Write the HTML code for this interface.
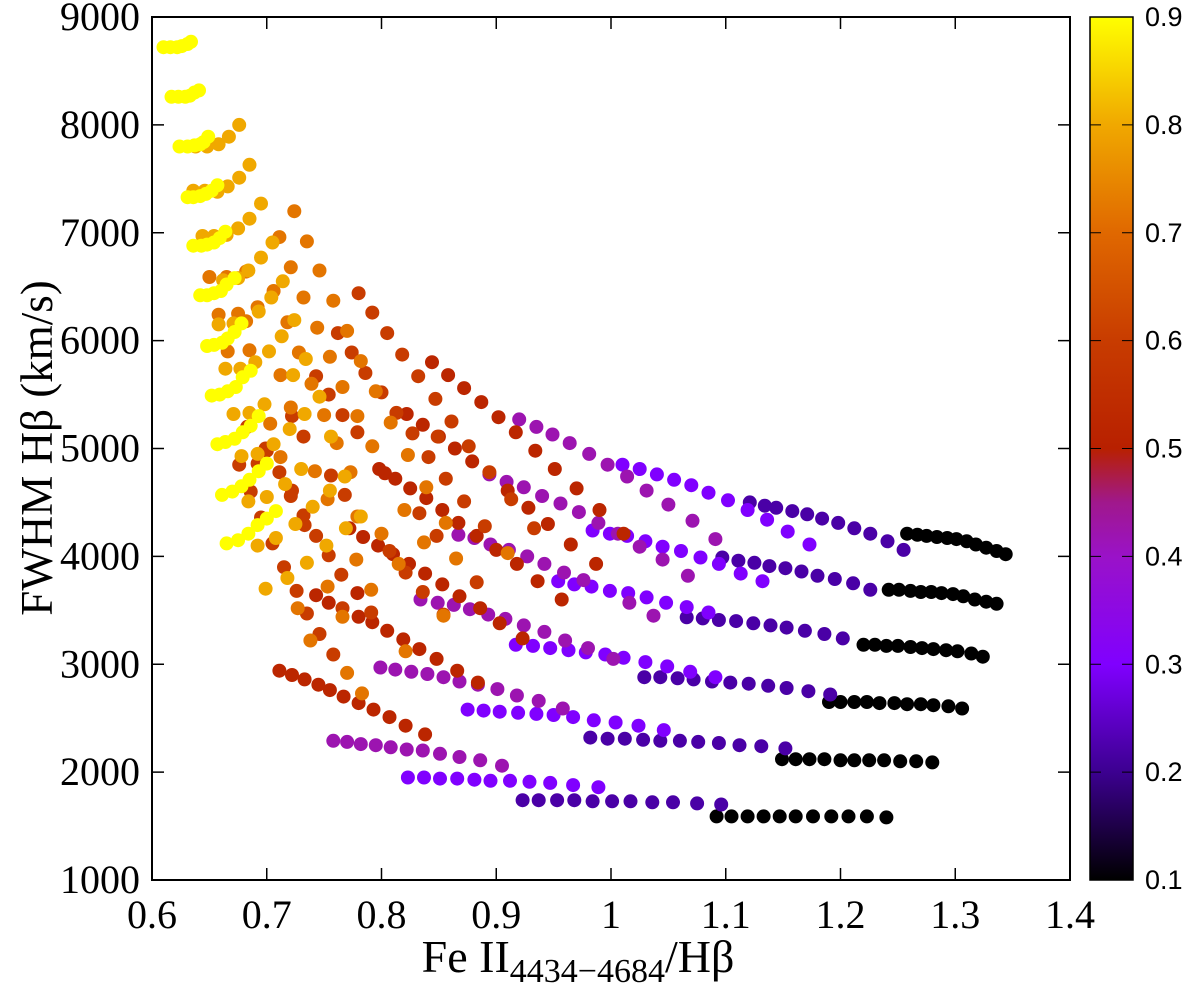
<!DOCTYPE html>
<html><head><meta charset="utf-8">
<style>
html,body{margin:0;padding:0;background:#fff;}
svg{display:block;}
</style></head>
<body>
<svg id="chart" width="1200" height="985" viewBox="0 0 1200 985" xmlns="http://www.w3.org/2000/svg">
  <defs>
    <linearGradient id="cbgrad" x1="0" y1="1" x2="0" y2="0">
      <stop offset="0" stop-color="#000000"/>
      <stop offset="0.125" stop-color="#3c0090"/>
      <stop offset="0.25" stop-color="#8000ff"/>
      <stop offset="0.375" stop-color="#9a12c8"/>
      <stop offset="0.4375" stop-color="#a0188c"/>
      <stop offset="0.5" stop-color="#b82000"/>
      <stop offset="0.625" stop-color="#c83c00"/>
      <stop offset="0.75" stop-color="#e06800"/>
      <stop offset="0.875" stop-color="#f0a800"/>
      <stop offset="1" stop-color="#ffff00"/>
    </linearGradient>
  </defs>
  <g id="points"></g>
  <rect x="152" y="17" width="918" height="863" fill="none" stroke="#000" stroke-width="2"/>
  <g id="axes" font-family="'Liberation Serif', serif" font-size="40" fill="#000"></g>
  <text transform="translate(52,448) rotate(-90)" text-anchor="middle" font-family="'Liberation Serif', serif" font-size="45">FWHM Hβ (km/s)</text>
  <text x="578" y="972" text-anchor="middle" font-family="'Liberation Serif', serif" font-size="46">Fe II<tspan font-size="34" dy="10">4434−4684</tspan><tspan dy="-10">/Hβ</tspan></text>
  <rect x="1090" y="17" width="43" height="863" fill="url(#cbgrad)" stroke="#000" stroke-width="1.5"/>
  <g id="cbaxis" font-family="'Liberation Sans', sans-serif" font-size="27" fill="#000"></g>
</svg>
<script>
// ---- data (x = FeII ratio, y = FWHM Hbeta km/s), grouped by colour value ----
const xTicks = [0.6,0.7,0.8,0.9,1,1.1,1.2,1.3,1.4];
const yTicks = [1000,2000,3000,4000,5000,6000,7000,8000,9000];
const cbTicks = [0.1,0.2,0.3,0.4,0.5,0.6,0.7,0.8,0.9];
const groupValues = [0.1,0.22,0.3,0.42,0.52,0.6,0.72,0.8,0.9];

const c10 = [
[1.258,4210],[1.267,4200],[1.275,4190],[1.284,4180],[1.293,4170],[1.301,4160],[1.310,4140],[1.318,4110],[1.327,4080],[1.336,4050],[1.344,4020],
[1.242,3690],[1.251,3690],[1.261,3680],[1.270,3670],[1.279,3670],[1.288,3660],[1.298,3650],[1.307,3630],[1.317,3600],[1.327,3580],[1.336,3560],
[1.220,3180],[1.230,3180],[1.240,3170],[1.250,3170],[1.261,3160],[1.271,3150],[1.281,3140],[1.292,3130],[1.302,3120],[1.314,3100],[1.324,3070],
[1.190,2650],[1.200,2650],[1.212,2650],[1.223,2650],[1.234,2640],[1.247,2640],[1.258,2630],[1.270,2630],[1.281,2620],[1.294,2610],[1.306,2590],
[1.149,2120],[1.161,2120],[1.173,2120],[1.186,2120],[1.200,2110],[1.212,2110],[1.225,2110],[1.238,2110],[1.252,2100],[1.266,2100],[1.280,2090],
[1.092,1590],[1.105,1590],[1.119,1590],[1.133,1590],[1.147,1590],[1.161,1590],[1.176,1590],[1.192,1590],[1.207,1590],[1.223,1590],[1.240,1580]];

const c22 = [
[1.121,4500],[1.134,4470],[1.144,4450],[1.158,4420],[1.171,4390],[1.184,4350],[1.198,4310],[1.212,4260],[1.226,4210],[1.241,4140],[1.255,4060],
[1.097,3990],[1.111,3960],[1.125,3940],[1.138,3910],[1.152,3890],[1.166,3860],[1.180,3820],[1.195,3790],[1.211,3750],[1.226,3690],
[1.066,3435],[1.080,3425],[1.094,3410],[1.109,3400],[1.124,3380],[1.139,3360],[1.153,3340],[1.169,3310],[1.186,3280],[1.202,3240],
[1.029,2880],[1.043,2880],[1.058,2870],[1.072,2860],[1.088,2840],[1.104,2830],[1.120,2820],[1.137,2800],[1.153,2780],[1.172,2750],[1.191,2720],
[0.982,2320],[0.997,2310],[1.012,2310],[1.028,2300],[1.043,2290],[1.060,2290],[1.076,2280],[1.094,2270],[1.112,2250],[1.131,2240],[1.152,2220],
[0.923,1740],[0.937,1740],[0.953,1740],[0.968,1740],[0.984,1730],[1.001,1730],[1.017,1730],[1.036,1720],[1.054,1720],[1.075,1710],[1.096,1700]];

const c30 = [
[1.010,4850],[1.025,4810],[1.040,4760],[1.055,4710],[1.070,4660],[1.085,4590],[1.102,4520],[1.119,4430],[1.136,4340],[1.154,4230],[1.173,4110],
[0.984,4240],[0.999,4210],[1.014,4190],[1.030,4140],[1.045,4090],[1.061,4050],[1.078,3990],[1.094,3930],[1.113,3840],[1.132,3770],
[0.954,3770],[0.968,3740],[0.983,3720],[0.999,3680],[1.015,3660],[1.031,3620],[1.048,3570],[1.066,3530],[1.085,3480],
[0.917,3180],[0.932,3170],[0.947,3150],[0.963,3130],[0.978,3110],[0.995,3090],[1.011,3060],[1.030,3020],[1.049,2980],[1.069,2930],[1.091,2880],
[0.875,2580],[0.889,2570],[0.903,2560],[0.919,2550],[0.935,2540],[0.950,2530],[0.967,2510],[0.985,2480],[1.004,2460],[1.024,2430],[1.046,2390],
[0.823,1950],[0.837,1950],[0.851,1940],[0.866,1940],[0.881,1930],[0.895,1920],[0.912,1920],[0.929,1910],[0.947,1900],[0.967,1880],[0.989,1860]];

const c42 = [
[0.920,5270],[0.935,5200],[0.949,5130],[0.964,5050],[0.981,4950],[0.997,4850],
[0.894,4760],[0.909,4690],[0.924,4640],[0.940,4560],[0.956,4490],[0.972,4410],[0.989,4310],[1.006,4210],[1.025,4090],[1.045,3970],[1.067,3820],
[1.014,4740],[1.031,4610],[1.050,4480],[1.071,4330],[1.091,4160],[1.016,3570],[1.037,3450],
[0.867,4200],[0.881,4170],[0.895,4110],[0.911,4060],[0.927,4000],[0.942,3930],[0.959,3850],[0.976,3780],
[0.834,3600],[0.849,3570],[0.863,3550],[0.877,3510],[0.893,3460],[0.908,3420],[0.924,3360],[0.942,3300],[0.960,3220],[0.980,3150],[1.002,3050],
[0.799,2970],[0.812,2950],[0.826,2930],[0.840,2910],[0.854,2880],[0.868,2840],[0.884,2810],[0.901,2770],[0.918,2710],[0.937,2660],[0.958,2590],
[0.758,2290],[0.770,2280],[0.782,2260],[0.795,2250],[0.808,2230],[0.822,2210],[0.836,2200],[0.851,2170],[0.868,2140],[0.886,2110],[0.905,2060]];

const c52 = [
[0.844,5800],[0.858,5680],[0.872,5560],[0.887,5430],[0.902,5290],[0.850,5110],[0.864,5000],[0.879,4880],[0.822,5320],[0.836,5220],
[0.917,5150],[0.934,4980],[0.951,4810],[0.970,4630],[0.990,4430],[1.011,4210],[0.910,4610],[0.928,4450],[0.945,4300],[0.965,4110],[0.987,3930],
[0.900,4060],[0.918,3930],[0.936,3770],[0.957,3600],[0.903,3380],[0.923,3240],
[0.803,4770],[0.798,4810],[0.812,4720],[0.825,4630],[0.839,4540],[0.853,4430],[0.867,4310],
[0.784,4180],[0.797,4100],[0.810,4020],[0.824,3930],[0.838,3840],[0.853,3740],[0.868,3630],[0.886,3520],
[0.772,4260],[0.779,3660],[0.780,3440],[0.792,3390],[0.743,3640],[0.754,3570],
[0.805,3310],[0.819,3230],[0.833,3140],[0.848,3050],[0.866,2940],[0.884,2830],[0.883,4190],
[0.711,2940],[0.722,2900],[0.733,2860],[0.745,2810],[0.755,2760],[0.767,2700],[0.780,2640],[0.793,2580],[0.807,2510],[0.821,2430],[0.838,2350]];

const c60 = [
[0.780,6440],[0.792,6260],[0.805,6070],[0.818,5870],[0.832,5670],[0.847,5460],[0.762,6070],[0.774,5890],[0.786,5700],[0.743,5670],[0.754,5500],
[0.800,5520],[0.813,5330],[0.827,5140],[0.849,5110],[0.722,5300],[0.732,5110],[0.779,5150],[0.766,5310],[0.683,5200],[0.699,5000],
[0.861,5250],[0.876,5020],[0.894,4780],[0.913,4530],[0.933,4260],[0.700,4980],[0.676,4850],[0.692,4860],[0.711,4780],[0.756,4750],
[0.686,4600],[0.721,4560],[0.722,4610],[0.768,4570],[0.732,4380],[0.733,4290],[0.695,4360],[0.705,4120],[0.715,3900],[0.726,3680],[0.735,3470],
[0.743,4190],[0.754,4010],[0.765,3830],[0.766,3520],[0.791,3480],[0.746,3280],[0.758,3090],[0.807,4050],[0.848,4190],[0.872,4510],[0.890,4280],
[0.833,4400],[0.841,4920],[0.856,4720],[0.821,3850],[0.836,3670],[0.854,3460],[0.883,3760]];

const c72 = [
[0.724,7200],[0.711,6960],[0.735,6920],[0.746,6650],[0.650,6590],[0.665,6590],[0.682,6640],[0.721,6680],[0.706,6460],[0.732,6400],[0.758,6370],
[0.658,6240],[0.675,6250],[0.682,6180],[0.692,6310],[0.718,6170],[0.744,6120],[0.770,6090],[0.666,5900],[0.685,5910],[0.728,5890],[0.755,5850],[0.782,5810],
[0.712,5680],[0.739,5600],[0.766,5570],[0.795,5530],[0.703,5230],[0.721,5380],[0.750,5310],[0.779,5300],[0.808,5240],[0.761,5050],[0.792,5020],
[0.712,4920],[0.742,4790],[0.753,4530],[0.773,4780],[0.727,3520],[0.753,3720],[0.791,3690],[0.778,3970],[0.766,3440],[0.738,3220],[0.770,2920],[0.783,2730],
[0.821,3120],[0.854,3450],[0.865,3980],[0.815,3930],[0.800,4210],[0.779,4370],[0.839,4640],[0.856,4310],[0.823,4940],[0.820,4430],[0.837,4130],[0.910,4030]];

const c80 = [
[0.638,7800],[0.648,7800],[0.658,7820],[0.667,7890],[0.676,8000],[0.636,7390],[0.646,7390],[0.657,7380],[0.666,7430],[0.676,7510],[0.685,7630],
[0.644,6970],[0.654,6970],[0.665,6980],[0.675,7040],[0.685,7130],[0.695,7270],[0.705,6910],[0.662,6560],[0.675,6580],[0.684,6650],[0.695,6770],
[0.714,6550],[0.704,6400],[0.658,6150],[0.671,6160],[0.693,6270],[0.702,5900],[0.713,6040],[0.724,6190],[0.690,5800],[0.734,5830],[0.664,5740],
[0.677,5740],[0.723,5680],[0.746,5480],[0.671,5320],[0.685,5330],[0.698,5410],[0.733,5320],[0.720,5180],[0.756,5110],[0.706,5040],[0.678,4930],
[0.692,4950],[0.730,4810],[0.768,4740],[0.684,4510],[0.700,4550],[0.716,4670],[0.755,4610],[0.740,4460],[0.725,4300],[0.708,4170],[0.692,4100],
[0.699,3700],[0.718,3800],[0.752,4100],[0.735,3940],[0.782,4370],[0.769,4260]];

const c90 = [
[0.610,8720],[0.616,8720],[0.622,8720],[0.626,8730],[0.631,8750],[0.634,8770],
[0.617,8260],[0.623,8260],[0.629,8260],[0.633,8270],[0.637,8300],[0.641,8320],
[0.624,7800],[0.631,7800],[0.637,7810],[0.642,7820],[0.645,7840],[0.649,7890],
[0.631,7330],[0.636,7330],[0.642,7340],[0.647,7360],[0.652,7390],[0.657,7440],
[0.636,6880],[0.643,6880],[0.648,6890],[0.654,6910],[0.659,6950],[0.664,7010],
[0.642,6420],[0.648,6420],[0.654,6440],[0.660,6460],[0.665,6520],[0.672,6580],
[0.648,5950],[0.654,5960],[0.661,5980],[0.666,6020],[0.672,6080],[0.678,6160],
[0.652,5490],[0.659,5500],[0.666,5530],[0.673,5570],[0.679,5660],[0.686,5720],
[0.657,5040],[0.664,5060],[0.672,5090],[0.679,5150],[0.686,5210],[0.693,5300],
[0.661,4570],[0.670,4600],[0.678,4650],[0.685,4710],[0.693,4790],[0.700,4860],
[0.665,4120],[0.675,4150],[0.684,4210],[0.692,4290],[0.700,4350],[0.708,4420]];

const groups = [c10,c22,c30,c42,c52,c60,c72,c80,c90];

// ---- axes ----
const X0=152, X1=1070, Y0=880, Y1=17;
const xMin=0.6, xMax=1.4, yMin=1000, yMax=9000, cMin=0.1, cMax=0.9;
function sx(v){return X0+(v-xMin)/(xMax-xMin)*(X1-X0);}
function sy(v){return Y0-(v-yMin)/(yMax-yMin)*(Y0-Y1);}
function sc(v){return Y0-(v-cMin)/(cMax-cMin)*(Y0-Y1);}

const stops=[[0.1,[0,0,0]],[0.2,[60,0,144]],[0.3,[128,0,255]],[0.4,[154,18,200]],[0.45,[160,24,140]],[0.5,[184,32,0]],[0.6,[200,60,0]],[0.7,[224,104,0]],[0.8,[240,168,0]],[0.9,[255,255,0]]];
function palette(v){
  for(let i=0;i<stops.length-1;i++){
    const a=stops[i],b=stops[i+1];
    if(v<=b[0]){const t=Math.max(0,(v-a[0])/(b[0]-a[0]));
      const c=a[1].map((q,k)=>Math.round(q+(b[1][k]-q)*t));
      return 'rgb('+c.join(',')+')';}
  }
  return 'rgb(255,255,0)';
}

const NS='http://www.w3.org/2000/svg';
const gp=document.getElementById('points');
groups.forEach((g,gi)=>{
  const col=palette(groupValues[gi]);
  g.forEach(p=>{
    const c=document.createElementNS(NS,'circle');
    c.setAttribute('cx',sx(p[0]).toFixed(1));
    c.setAttribute('cy',sy(p[1]).toFixed(1));
    c.setAttribute('r','7');
    c.setAttribute('fill',col);
    
    
    gp.appendChild(c);
  });
});

const ga=document.getElementById('axes');
function line(g,x1,y1,x2,y2,w,name){
  const l=document.createElementNS(NS,'line');
  l.setAttribute('x1',x1);l.setAttribute('y1',y1);l.setAttribute('x2',x2);l.setAttribute('y2',y2);
  l.setAttribute('stroke','#000');l.setAttribute('stroke-width',w);
  
  
  g.appendChild(l);
}
function text(g,x,y,s,anchor,name){
  const t=document.createElementNS(NS,'text');
  t.setAttribute('x',x);t.setAttribute('y',y);t.setAttribute('text-anchor',anchor);
  t.textContent=s;
  
  
  g.appendChild(t);
}
xTicks.forEach(v=>{
  const x=sx(v);
  line(ga,x,Y0,x,Y0-12,1.5,'x-tick');
  line(ga,x,Y1,x,Y1+12,1.5,'x-tick-top');
  text(ga,x,928,String(v),'middle','x-tick-label');
});
yTicks.forEach(v=>{
  const y=sy(v);
  line(ga,X0,y,X0+12,y,1.5,'y-tick');
  line(ga,X1,y,X1-12,y,1.5,'y-tick-right');
  text(ga,140,y+13,String(v),'end','y-tick-label');
});
const gc=document.getElementById('cbaxis');
cbTicks.forEach(v=>{
  const y=sc(v);
  if(v>cMin && v<cMax){
    line(gc,1090,y,1101,y,1,'colorbar-tick');
    line(gc,1133,y,1122,y,1,'colorbar-tick');
  }
  text(gc,1145,y+9,v.toFixed(1),'start','colorbar-tick-label');
});
</script>
</body></html>
